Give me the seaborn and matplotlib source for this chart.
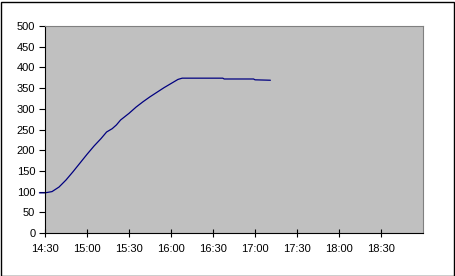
import matplotlib
matplotlib.use("Agg")
import matplotlib.pyplot as plt
import matplotlib.dates as mdates
from matplotlib.patches import Rectangle
import seaborn as sns
import pandas as pd

times = ["14:26", "14:30", "14:35", "14:40", "14:45", "14:50", "14:55", "15:00",
         "15:05", "15:10", "15:14", "15:18", "15:21", "15:24", "15:30", "15:35",
         "15:40", "15:45", "15:50", "15:55", "16:00", "16:05", "16:08", "16:37",
         "16:38", "16:59", "17:00", "17:11"]
values = [97, 97, 100, 111, 128, 148, 169, 190,
          210, 228, 244, 252, 261, 273, 289, 304,
          317, 329, 340, 351, 361, 371, 374, 374,
          372, 372, 370, 369]
x_ticks = ["14:30", "15:00", "15:30", "16:00", "16:30", "17:00", "17:30", "18:00", "18:30"]
y_ticks = [0, 50, 100, 150, 200, 250, 300, 350, 400, 450, 500]

day = "2000-01-01 "
df = pd.DataFrame({"time": pd.to_datetime([day + t for t in times]), "value": values})

sns.set_style("white")
plt.rcParams["font.family"] = ["Liberation Sans", "DejaVu Sans"]

fig = plt.figure(figsize=(4.55, 2.76), dpi=100)
W, H = 455, 276
ax = fig.add_axes([45 / W, (H - 233) / H, 378 / W, 207 / H])
ax.set_facecolor("#C0C0C0")

sns.lineplot(data=df, x="time", y="value", ax=ax, color="#000080", linewidth=0.9)
for ln in ax.lines:
    ln.set_clip_on(False)

ax.set_xlim(pd.Timestamp(day + "14:30"), pd.Timestamp(day + "19:00"))
ax.set_ylim(0, 500)
ax.set_xticks([pd.Timestamp(day + t) for t in x_ticks])
ax.xaxis.set_major_formatter(mdates.DateFormatter("%H:%M"))
ax.set_yticks(y_ticks)
ax.set_xlabel("")
ax.set_ylabel("")
ax.tick_params(axis="x", direction="inout", length=6, width=0.8, labelsize=8, pad=5, colors="black")
ax.tick_params(axis="y", direction="out", length=4, width=0.8, labelsize=8, pad=3, colors="black")
ax.xaxis.set_ticks_position("bottom")
ax.yaxis.set_ticks_position("left")
for s in ["left", "bottom"]:
    ax.spines[s].set_color("black")
    ax.spines[s].set_linewidth(0.8)
for s in ["top", "right"]:
    ax.spines[s].set_color("#808080")
    ax.spines[s].set_linewidth(0.8)

fig.add_artist(Rectangle((0.5 / W, 0.5 / H), (W - 2) / W, (H - 2) / H,
                         transform=fig.transFigure, fill=False, edgecolor="black", linewidth=1))

fig.savefig("out.png", dpi=100)
